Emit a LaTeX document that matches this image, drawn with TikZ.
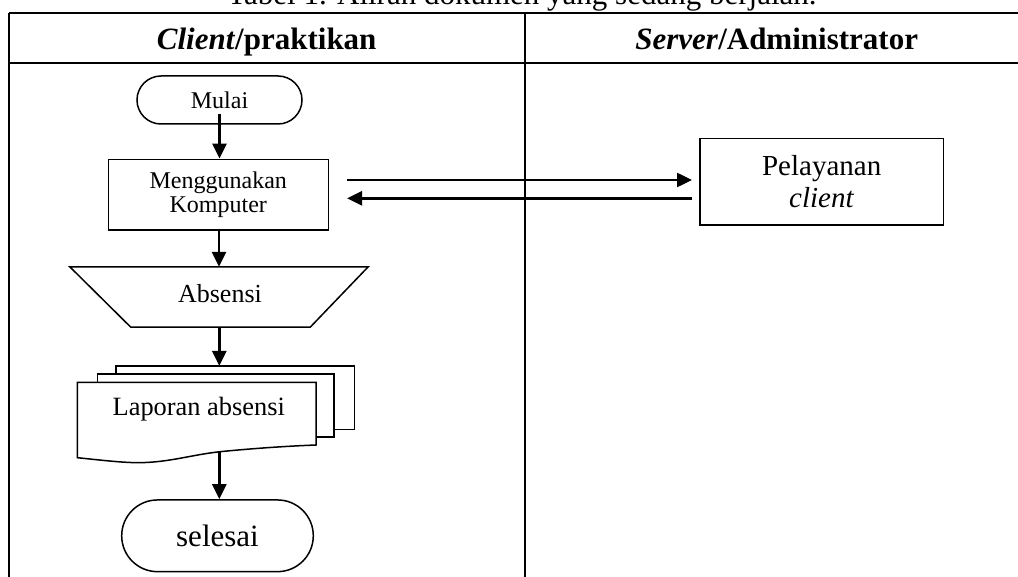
\documentclass[tikz,border=0pt]{standalone}
\usepackage{fontspec}
\setmainfont{Liberation Serif}
\usetikzlibrary{arrows.meta}
\begin{document}
\begin{tikzpicture}[x=1pt,y=-1pt,
  tbl/.style={line width=2pt},
  box/.style={draw, line width=1.5pt, fill=white, inner sep=0pt},
  arr/.style={line width=2.5pt, -{Triangle[length=15pt,width=14pt]}},
  lbl/.style={anchor=base, inner sep=0pt},
  big/.style={font=\fontsize{31}{36}\selectfont},
]
\useasboundingbox (0,0) rectangle (1018,577);
\clip (0,0) rectangle (1018,577);

% title (cut off at the top)
\node[lbl, big] (title) at (522,5) {Tabel 1. Aliran dokumen yang sedang berjalan.};

% table
\draw[tbl] (9,13.3) -- (1040,13.3);
\draw[tbl] (9,63.3) -- (1040,63.3);
\draw[tbl] (9,13.3) -- (9,600);
\draw[tbl] (524.5,13.3) -- (524.5,600);

\node[lbl, big, font=\fontsize{31}{36}\selectfont\bfseries] (h1) at (266.7,50) {\textit{Client}/praktikan};
\node[lbl, big, font=\fontsize{31}{36}\selectfont\bfseries] (h2) at (776.7,50) {\textit{Server}/Administrator};

% Mulai
\node[box, rounded corners=24pt, minimum width=165pt, minimum height=48pt,
      font=\fontsize{24}{28}\selectfont] (mulai) at (219.5,100) {Mulai};

% Menggunakan Komputer
\node[box, minimum width=220pt, minimum height=70.7pt, align=center,
      font=\fontsize{24}{24}\selectfont] (meng) at (218.3,194.7) {Menggunakan\\Komputer};

% Pelayanan client
\node[box, minimum width=243.3pt, minimum height=86.7pt, align=center,
      font=\fontsize{29}{32.3}\selectfont] (pel) at (821.7,181.7) {Pelayanan\\\textit{client}};

% Absensi (manual input trapezoid)
\node[inner sep=0pt, minimum width=298pt, minimum height=60pt] (abs) at (219,297) {};
\draw[line width=1.5pt, fill=white] (abs.north west) -- (abs.north east)
   -- ([xshift=-58pt]abs.south east) -- ([xshift=61pt]abs.south west) -- cycle;
\node[lbl, font=\fontsize{26}{30}\selectfont] (tabs) at (220,302.7) {Absensi};

% Laporan absensi (multi-document)
\draw[line width=1.5pt, fill=white] (116,366) rectangle (354.3,429.5);
\draw[line width=1.5pt, fill=white] (97.3,374) rectangle (334,437);
\draw[line width=1.5pt, fill=white] (77.3,382.3) -- (316,382.3) -- (316,445)
   .. controls (290,446) and (258,448) .. (222,451.5)
   .. controls (192,454.5) and (170,462.5) .. (138,462.7)
   .. controls (120,462.5) and (100,460) .. (77.3,457.7) -- cycle;
\node[lbl, font=\fontsize{26.4}{30}\selectfont] (tlap) at (198.8,415) {Laporan absensi};
\coordinate (docin) at (219.3,366);
\coordinate (docout) at (219.3,451.7);

% selesai
\node[box, rounded corners=35.8pt, minimum width=191.6pt, minimum height=71.7pt,
      font=\fontsize{31}{36}\selectfont] (sel) at (217.5,535.8) {selesai};

% connectors
\draw[arr] ([yshift=11pt]mulai.south) -- (meng.north -| mulai.south);
\draw[arr] (meng.south -| abs.north) -- (abs.north);
\draw[arr] (abs.south -| docin) -- (docin);
\draw[arr] (docout) -- (docout |- sel.north);
\draw[arr] ([shift={(18,-14.7)}]meng.east) -- ([shift={(-7.3,-1.7)}]pel.west);
\draw[arr] ([shift={(-7.3,16.6)}]pel.west) -- ([shift={(18,3.6)}]meng.east);
\end{tikzpicture}
\end{document}
